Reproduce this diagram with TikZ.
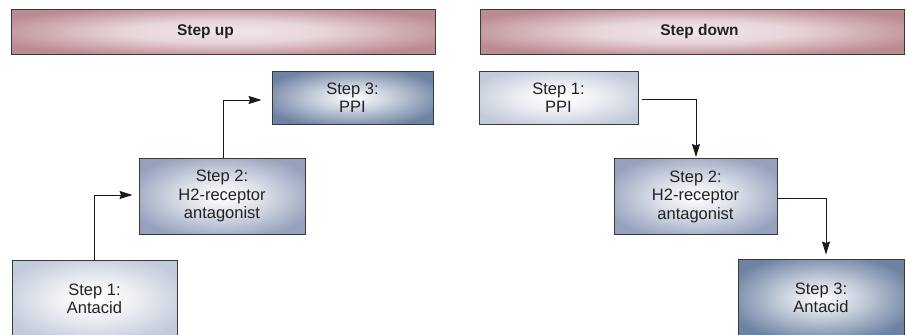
\documentclass[tikz,border=0pt]{standalone}
\usepackage{fontspec}
\setmainfont{Liberation Sans}
\usetikzlibrary{arrows.meta}

\definecolor{frame}{HTML}{3A3A3A}
\definecolor{hdrout}{HTML}{BC8A92}
\definecolor{hdrin}{HTML}{F2E8EA}
\definecolor{lvlone}{HTML}{C3CADA}
\definecolor{lvltwo}{HTML}{96A2BD}
\definecolor{lvlthree}{HTML}{6E83A3}
\definecolor{ink}{HTML}{222222}

% soft elliptical glows: light centre fading to the box colour at the rim
\pgfdeclareradialshading{glowhdr}{\pgfpointorigin}{color(0bp)=(hdrin); color(12bp)=(hdrin!80!hdrout); color(29bp)=(hdrout); color(50bp)=(hdrout)}
\pgfdeclareradialshading{glowone}{\pgfpointorigin}{color(0bp)=(white); color(11bp)=(white!75!lvlone); color(29bp)=(lvlone); color(50bp)=(lvlone)}
\pgfdeclareradialshading{glowtwo}{\pgfpointorigin}{color(0bp)=(white); color(11bp)=(white!70!lvltwo); color(29bp)=(lvltwo); color(50bp)=(lvltwo)}
\pgfdeclareradialshading{glowthree}{\pgfpointorigin}{color(0bp)=(white); color(11bp)=(white!65!lvlthree); color(29bp)=(lvlthree); color(50bp)=(lvlthree)}

\tikzset{
  stepbox/.style={draw=frame, line width=0.9pt, align=center, inner sep=0pt,
    font=\fontsize{16.5}{18.5}\selectfont, text=ink},
  lightbox/.style={stepbox, shading=glowone},
  midbox/.style={stepbox, shading=glowtwo},
  darkbox/.style={stepbox, shading=glowthree},
  header/.style={draw=frame, line width=0.9pt, inner sep=0pt,
    minimum width=424pt, minimum height=45pt, shading=glowhdr},
  headtext/.style={inner sep=0pt, font=\bfseries\fontsize{15.5}{18}\selectfont, text=ink},
  link/.style={draw=black!90, line width=0.9pt,
    -{Stealth[length=13pt,width=8pt,inset=1.5pt]}}
}

\begin{document}
\begin{tikzpicture}[x=1pt,y=-1pt]
  \useasboundingbox (0,0) rectangle (906,335);
  \clip (0,0) rectangle (906,335);

  % headers
  \node[header] (hup) at (223.5,31.5) {};
  \node[headtext] (huptext) at (205.5,31.5) {Step up};
  \node[header] (hdown) at (692,31.5) {};
  \node[headtext] (hdowntext) at (699.5,31.5) {Step down};

  % step-up ladder
  \node[lightbox, minimum width=165pt, minimum height=78pt] (u1) at (94.5,299) {Step 1:\\Antacid};
  \node[midbox, minimum width=166pt, minimum height=76pt] (u2) at (222,196) {Step 2:\\H2-receptor\\antagonist};
  \node[darkbox, minimum width=161pt, minimum height=53pt] (u3) at (352.5,97.5) {Step 3:\\PPI};

  % step-down ladder
  \node[lightbox, minimum width=159pt, minimum height=53pt] (d1) at (558.5,97.5) {Step 1:\\PPI};
  \node[midbox, minimum width=163pt, minimum height=76pt] (d2) at (695.5,196.5) {Step 2:\\H2-receptor\\antagonist};
  \node[darkbox, minimum width=166pt, minimum height=78pt] (d3) at (821,298) {Step 3:\\Antacid};

  % connectors
  \draw[link, shorten >=6pt] (u1.north -| 94.5,0) |- (u2.west |- 0,195);
  \draw[link, shorten >=10pt] (u2.north -| 223,0) |- (u3.west |- 0,100);
  \draw[link, shorten <=4pt, shorten >=1pt] (d1.east |- 0,99) -| (696,0 |- d2.north);
  \draw[link, shorten >=4pt] (d2.east |- 0,198) -| (826,0 |- d3.north);
\end{tikzpicture}
\end{document}
